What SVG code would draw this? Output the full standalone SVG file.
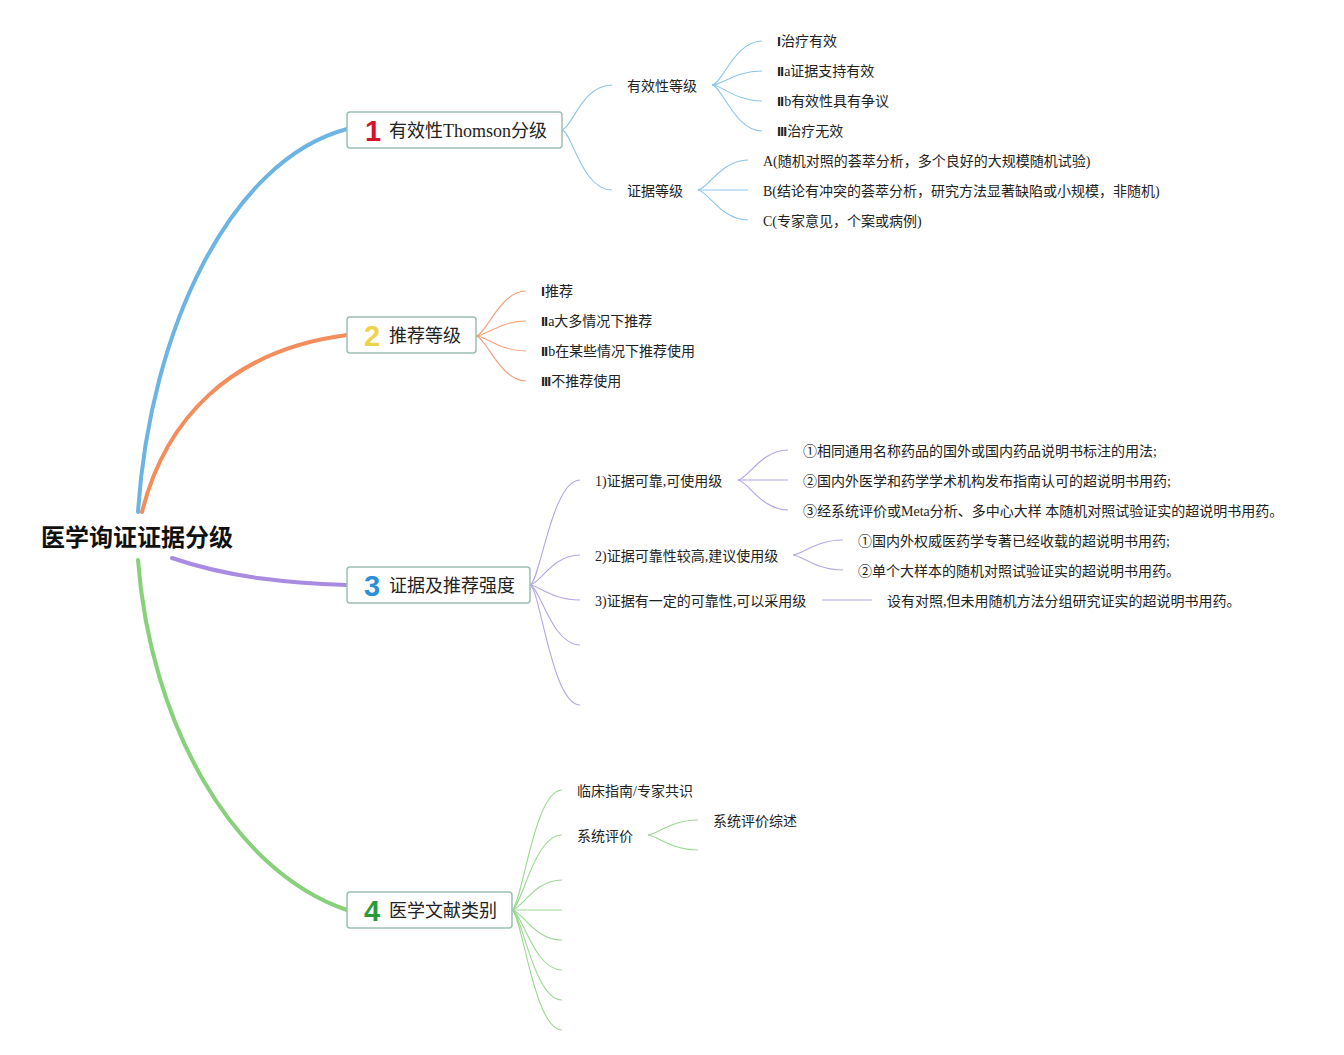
<svg xmlns="http://www.w3.org/2000/svg" width="1344" height="1055" viewBox="0 0 1344 1055">
<style>
.t{font-family:"Liberation Serif","Noto Sans CJK SC",serif;font-size:14px;fill:#222}
.r{font-family:"DejaVu Sans Condensed","DejaVu Sans",sans-serif;font-weight:bold;font-size:12px}
.bt{font-family:"Liberation Serif","Noto Sans CJK SC",serif;font-size:18px;fill:#222}
.num{font-family:"Liberation Sans","DejaVu Sans",sans-serif;font-size:29px;font-weight:bold}
.root{font-family:"Noto Sans CJK SC",sans-serif;font-size:24px;font-weight:bold;fill:#111}
.box{fill:#fff;stroke:#9dc0b5;stroke-width:1.5}
.c{fill:none;stroke-width:1.1}
.b{stroke:#8cc4e8}.o{stroke:#f2a27c}.p{stroke:#b7a5e6}.g{stroke:#9bd892}
.m{fill:none;stroke-width:4;stroke-linecap:round}
</style>
<rect width="1344" height="1055" fill="#fff"/>
<g id="connectors">
<path class="m" stroke="#6bb4e4" d="M138,512 C150,330 230,160 347,129"/>
<path class="m" stroke="#f48d5c" d="M142,512 C165,420 230,350 347,335"/>
<path class="m" stroke="#a98be2" d="M172,558 C230,578 290,583 347,585"/>
<path class="m" stroke="#86d17a" d="M138,560 C150,720 230,870 347,910"/>
<g class="c b">
<path d="M562,130 C572,128 582,85 612,85"/>
<path d="M562,130 C572,132 582,190 612,190"/>
<path d="M712,85 C722,84 735,41 762,41"/>
<path d="M712,85 C722,85 735,71 762,71"/>
<path d="M712,85 C722,85 735,101 762,101"/>
<path d="M712,85 C722,86 735,131 762,131"/>
<path d="M698,190 C708,189 721,160 748,160"/>
<path d="M698,190 L748,190"/>
<path d="M698,190 C708,191 721,220 748,220"/>
</g>
<g class="c o">
<path d="M476,336 C486,335 500,291 526,291"/>
<path d="M476,336 C486,336 500,321 526,321"/>
<path d="M476,336 C486,336 500,351 526,351"/>
<path d="M476,336 C486,337 500,381 526,381"/>
</g>
<g class="c p">
<path d="M530,585 C540,582 552,480 580,480"/>
<path d="M530,585 C540,584 552,555 580,555"/>
<path d="M530,585 C540,586 552,600 580,600"/>
<path d="M530,585 C540,587 552,645 580,645"/>
<path d="M530,585 C540,588 552,705 580,705"/>
<path d="M738,480 C748,479 761,450 788,450"/>
<path d="M738,480 L788,480"/>
<path d="M738,480 C748,481 761,510 788,510"/>
<path d="M793,555 C803,554 816,540 843,540"/>
<path d="M793,555 C803,556 816,570 843,570"/>
<path d="M822,600 L872,600"/>
</g>
<g class="c g">
<path d="M512,910 C522,906 534,790 562,790"/>
<path d="M512,910 C522,907 534,835 562,835"/>
<path d="M512,910 C522,909 534,880 562,880"/>
<path d="M512,910 L562,910"/>
<path d="M512,910 C522,911 534,940 562,940"/>
<path d="M512,910 C522,912 534,970 562,970"/>
<path d="M512,910 C522,913 534,1000 562,1000"/>
<path d="M512,910 C522,914 534,1030 562,1030"/>
<path d="M648,835 C658,834 671,820 698,820"/>
<path d="M648,835 C658,836 671,850 698,850"/>
</g>
</g>
<g id="root"><text class="root" x="41" y="546">医学询证证据分级</text></g>
<g id="n1">
<rect class="box" x="347" y="112" width="215" height="36" rx="3"/>
<text class="num" x="365" y="141" fill="#d3142d">1</text>
<text class="bt" x="389" y="137">有效性Thomson分级</text>
</g>
<g id="n1a"><text class="t" x="627" y="91">有效性等级</text></g>
<g id="n1a1"><text class="t" x="777" y="46"><tspan class="r">Ⅰ</tspan>治疗有效</text></g>
<g id="n1a2"><text class="t" x="777" y="76"><tspan class="r">Ⅱ</tspan>a证据支持有效</text></g>
<g id="n1a3"><text class="t" x="777" y="106"><tspan class="r">Ⅱ</tspan>b有效性具有争议</text></g>
<g id="n1a4"><text class="t" x="777" y="136"><tspan class="r">Ⅲ</tspan>治疗无效</text></g>
<g id="n1b"><text class="t" x="627" y="196">证据等级</text></g>
<g id="n1b1"><text class="t" x="763" y="166">A(随机对照的荟萃分析，多个良好的大规模随机试验)</text></g>
<g id="n1b2"><text class="t" x="763" y="196">B(结论有冲突的荟萃分析，研究方法显著缺陷或小规模，非随机)</text></g>
<g id="n1b3"><text class="t" x="763" y="226">C(专家意见，个案或病例)</text></g>
<g id="n2">
<rect class="box" x="347" y="317" width="129" height="36" rx="3"/>
<text class="num" x="364" y="346" fill="#efd34a">2</text>
<text class="bt" x="389" y="342">推荐等级</text>
</g>
<g id="n21"><text class="t" x="541" y="296"><tspan class="r">Ⅰ</tspan>推荐</text></g>
<g id="n22"><text class="t" x="541" y="326"><tspan class="r">Ⅱ</tspan>a大多情况下推荐</text></g>
<g id="n23"><text class="t" x="541" y="356"><tspan class="r">Ⅱ</tspan>b在某些情况下推荐使用</text></g>
<g id="n24"><text class="t" x="541" y="386"><tspan class="r">Ⅲ</tspan>不推荐使用</text></g>
<g id="n3">
<rect class="box" x="347" y="567" width="183" height="36" rx="3"/>
<text class="num" x="364" y="596" fill="#2b90da">3</text>
<text class="bt" x="389" y="592">证据及推荐强度</text>
</g>
<g id="n31"><text class="t" x="595" y="486">1)证据可靠,可使用级</text></g>
<g id="n311"><text class="t" x="803" y="456">①相同通用名称药品的国外或国内药品说明书标注的用法;</text></g>
<g id="n312"><text class="t" x="803" y="486">②国内外医学和药学学术机构发布指南认可的超说明书用药;</text></g>
<g id="n313"><text class="t" x="803" y="516">③经系统评价或Meta分析、多中心大样 本随机对照试验证实的超说明书用药。</text></g>
<g id="n32"><text class="t" x="595" y="561">2)证据可靠性较高,建议使用级</text></g>
<g id="n321"><text class="t" x="858" y="546">①国内外权威医药学专著已经收载的超说明书用药;</text></g>
<g id="n322"><text class="t" x="858" y="576">②单个大样本的随机对照试验证实的超说明书用药。</text></g>
<g id="n33"><text class="t" x="595" y="606">3)证据有一定的可靠性,可以采用级</text></g>
<g id="n331"><text class="t" x="887" y="606">设有对照,但未用随机方法分组研究证实的超说明书用药。</text></g>
<g id="n4">
<rect class="box" x="347" y="892" width="165" height="36" rx="3"/>
<text class="num" x="364" y="921" fill="#2a9a36">4</text>
<text class="bt" x="389" y="917">医学文献类别</text>
</g>
<g id="n41"><text class="t" x="577" y="796">临床指南/专家共识</text></g>
<g id="n42"><text class="t" x="577" y="841">系统评价</text></g>
<g id="n421"><text class="t" x="713" y="826">系统评价综述</text></g>
</svg>
